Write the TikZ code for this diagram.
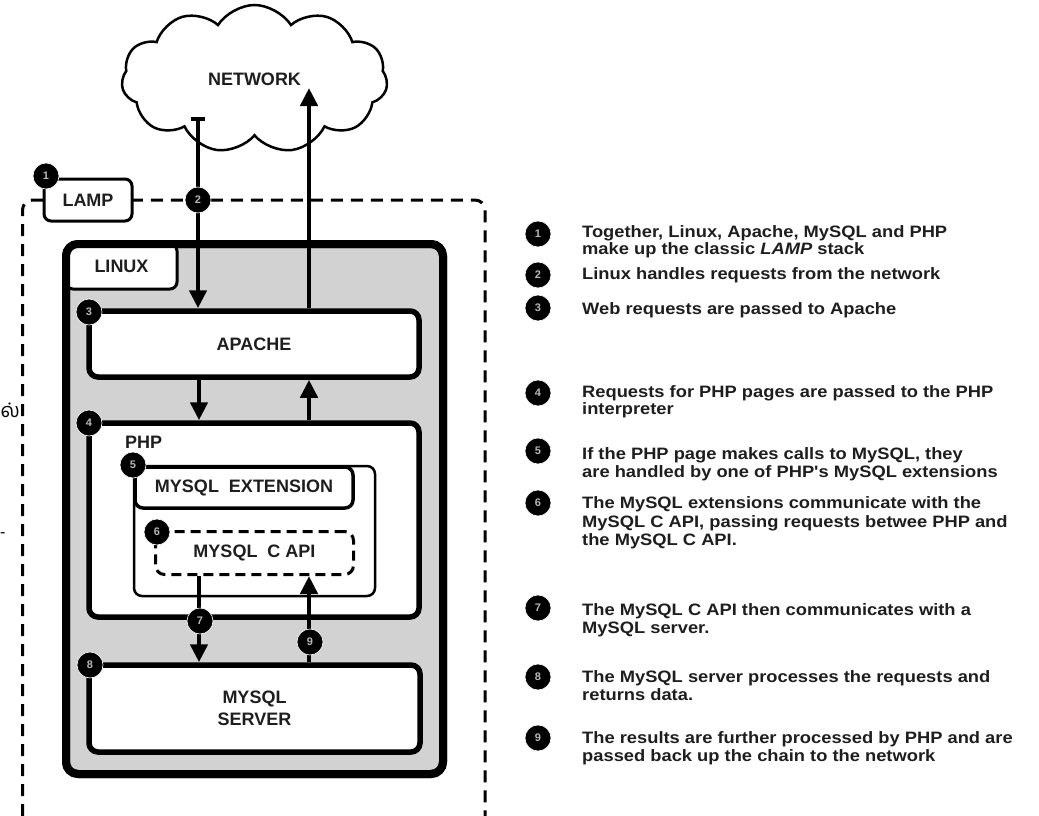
\documentclass[tikz,border=0pt]{standalone}
\usepackage{fontspec}
\setmainfont{Liberation Sans}
\newfontfamily\legfont[FakeStretch=1.11]{Liberation Sans}
\newfontfamily\tamilfont[Script=Tamil]{Hind Madurai}
\usetikzlibrary{arrows.meta,shapes.symbols}
\definecolor{linuxgray}{RGB}{210,210,210}
\definecolor{ink}{RGB}{30,30,30}
\begin{document}
\begin{tikzpicture}[x=1pt,y=-1pt,
  lbl/.style={font=\bfseries\fontsize{18}{22}\selectfont, text=ink},
  box/.style={draw=black, fill=white, rounded corners=9pt, line width=5.5pt, inner sep=0pt, lbl},
  thinbox/.style={draw=black, fill=white, rounded corners=8pt, line width=2.5pt, inner sep=0pt, lbl},
  badge/.style={circle, fill=black, draw=white, line width=0.6pt, minimum size=26pt, inner sep=0pt,
    text=white!72!black, font=\bfseries\fontsize{11}{11}\selectfont},
  flow/.style={line width=4.5pt, -{Triangle[width=17pt,length=18pt]}},
  leg/.style={anchor=base west, inner sep=0pt, text=ink, font=\legfont\bfseries\fontsize{16.5}{18}\selectfont}
]
\useasboundingbox (0,0) rectangle (1039,816);
\fill[white] (0,0) rectangle (1039,816);

% network cloud
\node[cloud, cloud puffs=11, cloud puff arc=115, aspect=1.9, draw, line width=2.5pt, fill=white,
  minimum width=266pt, minimum height=148pt, lbl] (net) at (254.5,79) {NETWORK};

% LAMP dashed region
\draw[line width=3pt, dash pattern=on 12pt off 8pt, rounded corners=10pt]
  (22.5,816) -- (22.5,200) -- (485,200) -- (485,816);

% LINUX box
\node[draw, fill=linuxgray, line width=8pt, rounded corners=12pt, minimum width=377pt,
  minimum height=530pt, outer sep=0pt] (linux) at (254.5,509) {};
\node[draw, fill=white, line width=3pt, rounded corners=7pt, minimum width=111pt,
  minimum height=45pt, inner sep=0pt, lbl] (linuxlbl) at (121.5,266.5) {LINUX};
\draw[line width=8pt, rounded corners=12pt] (linux.north west) rectangle (linux.south east);

% APACHE
\node[box, minimum width=330pt, minimum height=66pt] (apache) at (254,344) {APACHE};
% PHP
\node[box, minimum width=330pt, minimum height=194pt] (php) at (254,520) {};
\node[lbl, anchor=west, inner sep=0pt] (phplbl) at (125,442) {PHP};
\node[thinbox, minimum width=241pt, minimum height=130pt] (phpin) at (254.5,531) {};
\node[draw=black, fill=white, rounded corners=8pt, line width=3.5pt, inner sep=0pt, lbl,
  minimum width=218pt, minimum height=41pt] (ext) at (244,487.5) {MYSQL~~EXTENSION};
\node[draw=black, fill=white, rounded corners=9pt, line width=3pt, dash pattern=on 10pt off 6pt,
  inner sep=0pt, lbl, minimum width=198pt, minimum height=43pt] (capi) at (254.5,553) {MYSQL~~C~API};
% MYSQL SERVER
\node[box, minimum width=331pt, minimum height=87pt, align=center] (server) at (254.5,708.5) {MYSQL\\SERVER};

% connectors
\coordinate (inA) at (198,117);
\coordinate (outA) at (309,88);
\coordinate (xl) at (199,0);
\coordinate (xr) at (309,0);
\draw[flow, {Bar[width=14pt,line width=3.5pt]}-{Triangle[width=17pt,length=18pt]}] (inA) -- (inA |- apache.north);
\draw[flow] (outA |- apache.north) -- (outA);
\draw[flow] (xl |- apache.south) -- (xl |- php.north);
\draw[flow] (xr |- php.north) -- (xr |- apache.south);
\draw[flow] (xl |- capi.south) -- (xl |- server.north);
\draw[flow] (xr |- server.north) -- (xr |- capi.south);

% LAMP label
\node[draw, fill=white, line width=3pt, rounded corners=7pt, minimum width=88pt,
  minimum height=42pt, inner sep=0pt, lbl] (lamplbl) at (88,200) {LAMP};

% badges in diagram
\node[badge] (b1) at (46,176) {1};
\node[badge] (b2) at (198,200) {2};
\node[badge] (b3) at (89,312) {3};
\node[badge] (b4) at (89,423) {4};
\node[badge] (b5) at (133,465) {5};
\node[badge] (b6) at (157,532) {6};
\node[badge] (b7) at (200,621) {7};
\node[badge] (b8) at (90,665) {8};
\node[badge] (b9) at (310,642) {9};

% legend
\node[badge] (k1) at (538,234) {1};
\node[badge] (k2) at (538,275) {2};
\node[badge] (k3) at (538,308) {3};
\node[badge] (k4) at (538,393) {4};
\node[badge] (k5) at (538,451) {5};
\node[badge] (k6) at (538,503) {6};
\node[badge] (k7) at (538,608) {7};
\node[badge] (k8) at (538,677) {8};
\node[badge] (k9) at (538,738) {9};

\node[leg] (t1a) at (582,237) {Together, Linux, Apache, MySQL and PHP};
\node[leg] (t1b) at (582,254) {make up the classic \textit{LAMP} stack};
\node[leg] (t2) at (582,279) {Linux handles requests from the network};
\node[leg] (t3) at (582,314) {Web requests are passed to Apache};
\node[leg] (t4a) at (582,397) {Requests for PHP pages are passed to the PHP};
\node[leg] (t4b) at (582,414) {interpreter};
\node[leg] (t5a) at (582,459) {If the PHP page makes calls to MySQL, they};
\node[leg] (t5b) at (582,477) {are handled by one of PHP's MySQL extensions};
\node[leg] (t6a) at (582,508) {The MySQL extensions communicate with the};
\node[leg] (t6b) at (582,527) {MySQL C API, passing requests betwee PHP and};
\node[leg] (t6c) at (582,545) {the MySQL C API.};
\node[leg] (t7a) at (582,615) {The MySQL C API then communicates with a};
\node[leg] (t7b) at (582,633) {MySQL server.};
\node[leg] (t8a) at (582,682) {The MySQL server processes the requests and};
\node[leg] (t8b) at (582,700) {returns data.};
\node[leg] (t9a) at (582,743) {The results are further processed by PHP and are};
\node[leg] (t9b) at (582,761) {passed back up the chain to the network};

% stray marks at the left edge
\node[anchor=base west, inner sep=0pt, text=black, font=\tamilfont\fontsize{20}{20}\selectfont] (stray) at (0.5,417) {ல்};
\node[anchor=base west, inner sep=0pt, text=black, font=\fontsize{16}{16}\selectfont] (hyph) at (0,537) {-};
\end{tikzpicture}
\end{document}
